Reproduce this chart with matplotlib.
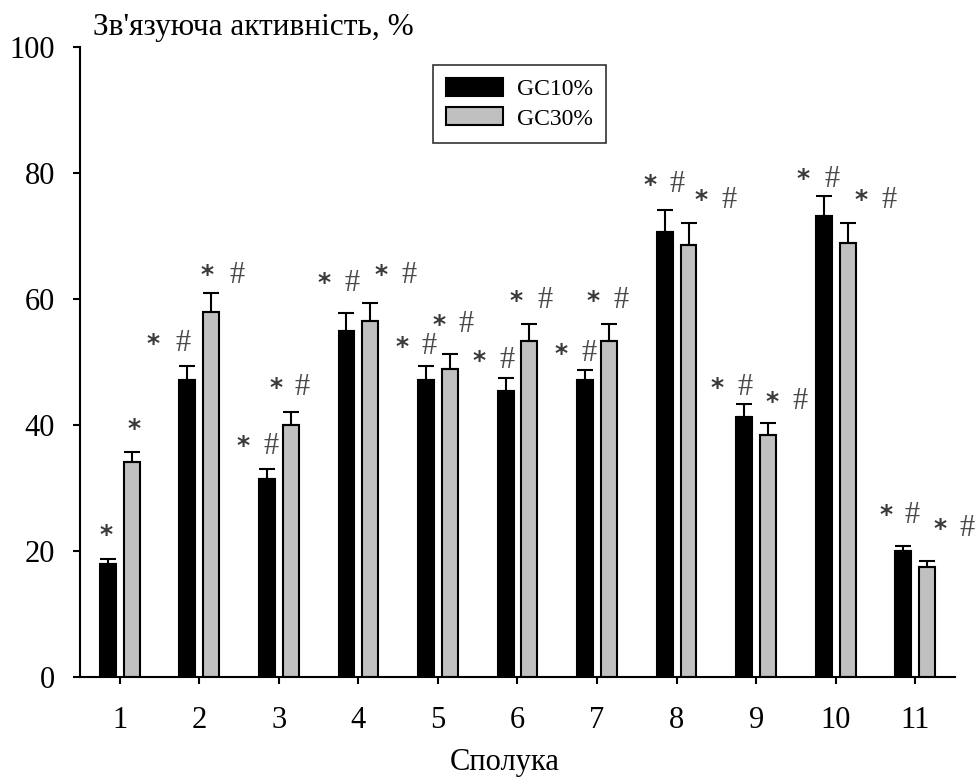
import matplotlib
matplotlib.use("Agg")
import matplotlib.pyplot as plt
import numpy as np

# ---- data ----
compounds = ["1", "2", "3", "4", "5", "6", "7", "8", "9", "10", "11"]
series_names = ["GC10%", "GC30%"]
gc10 = [17.9, 47.1, 31.5, 55.0, 47.1, 45.4, 47.1, 70.7, 41.3, 73.2, 20.0]
gc10_err = [0.8, 2.3, 1.5, 2.7, 2.3, 2.1, 1.6, 3.4, 2.0, 3.1, 0.8]
gc30 = [34.1, 58.0, 40.0, 56.5, 48.9, 53.4, 53.4, 68.5, 38.4, 68.9, 17.5]
gc30_err = [1.6, 2.9, 2.0, 2.8, 2.4, 2.6, 2.6, 3.5, 1.9, 3.1, 0.9]

# significance marks per bar: (label, x in category units, y in value units)
marks_gc10 = [("*", 0.833, 22.5), ("*", 1.415, 52.9), ("*", 2.545, 36.6), ("*", 3.563, 62.5),
              ("*", 4.543, 52.4), ("*", 5.523, 50.2), ("*", 6.553, 51.3), ("*", 7.671, 78.1),
              ("*", 8.513, 45.9), ("*", 9.593, 79.0), ("*", 10.636, 25.7)]
hash_gc10 = [None, 1.791, 2.897, 3.915, 4.894, 5.874, 6.905, 8.010, 8.864, 9.958, 10.962]
marks_gc30 = [("*", 1.176, 39.4), ("*", 2.093, 63.8), ("*", 2.960, 45.9), ("*", 4.291, 63.8),
              ("*", 5.008, 55.9), ("*", 5.987, 59.7), ("*", 6.955, 59.7), ("*", 8.312, 75.7),
              ("*", 9.204, 43.7), ("*", 10.322, 75.7), ("*", 11.314, 23.5)]
hash_gc30 = [None, 2.470, 3.286, 4.631, 5.359, 6.352, 7.307, 8.663, 9.555, 10.673, 11.653]

ylabel = "Зв'язуюча активність, %"
xlabel = "Сполука"

# ---- plot ----
plt.rcParams['font.family'] = ['Liberation Serif', 'DejaVu Serif']
fig = plt.figure(figsize=(9.76, 7.78), dpi=100)
ax = fig.add_axes([80/976, 101/778, 875/976, 630/778])

x = np.arange(1, len(compounds) + 1)
w = 0.2
off = 0.15
ax.bar(x - off, gc10, width=w, color="black", edgecolor="black", linewidth=1.5,
       label=series_names[0], zorder=2)
ax.bar(x + off, gc30, width=w, color="#c0c0c0", edgecolor="black", linewidth=1.5,
       label=series_names[1], zorder=2)
zeros = np.zeros(len(x))
ax.errorbar(x - off, gc10, yerr=[zeros, gc10_err], fmt="none", ecolor="black",
            elinewidth=1.5, capsize=5.8, capthick=1.5, zorder=3)
ax.errorbar(x + off, gc30, yerr=[zeros, gc30_err], fmt="none", ecolor="black",
            elinewidth=1.5, capsize=5.8, capthick=1.5, zorder=3)

mark_color = "#3a3a3a"
for marks, hashes in ((marks_gc10, hash_gc10), (marks_gc30, hash_gc30)):
    for (lab, mx, my), hx in zip(marks, hashes):
        ax.text(mx, my, lab, ha="center", va="center", fontsize=18, color=mark_color,
                family="DejaVu Sans", fontweight="bold", clip_on=False)
        if hx is not None:
            ax.text(hx, my, "#", ha="center", va="center", fontsize=22, color="#4a4a4a",
                    family="Liberation Serif", clip_on=False)

ax.set_xlim(0.5, 11.5)
ax.set_ylim(0, 100)
ax.set_yticks([0, 20, 40, 60, 80, 100])
ax.set_xticks(x)
ax.set_xticklabels(compounds)
ax.tick_params(axis="both", labelsize=22, length=5, width=1.5, direction="out")
ax.tick_params(axis="y", pad=13)
ax.tick_params(axis="x", pad=16)
for s in ("top", "right"):
    ax.spines[s].set_visible(False)
for s in ("left", "bottom"):
    ax.spines[s].set_linewidth(1.5)

fig.text(93/976, 1 - 35/778, ylabel, fontsize=22.5, ha="left", va="baseline")
fig.text(505/976, 8/778, xlabel, fontsize=22, ha="center", va="baseline")

leg = ax.legend(loc="upper left", bbox_to_anchor=((433 - 80)/875, (677 - 65)/630),
                fontsize=17, frameon=True, fancybox=False, edgecolor="black",
                handlelength=2.4, handleheight=0.8, borderpad=0.55, labelspacing=0.3,
                handletextpad=0.6, borderaxespad=0)
leg.get_frame().set_linewidth(1.2)

fig.savefig("out.png", dpi=100)
